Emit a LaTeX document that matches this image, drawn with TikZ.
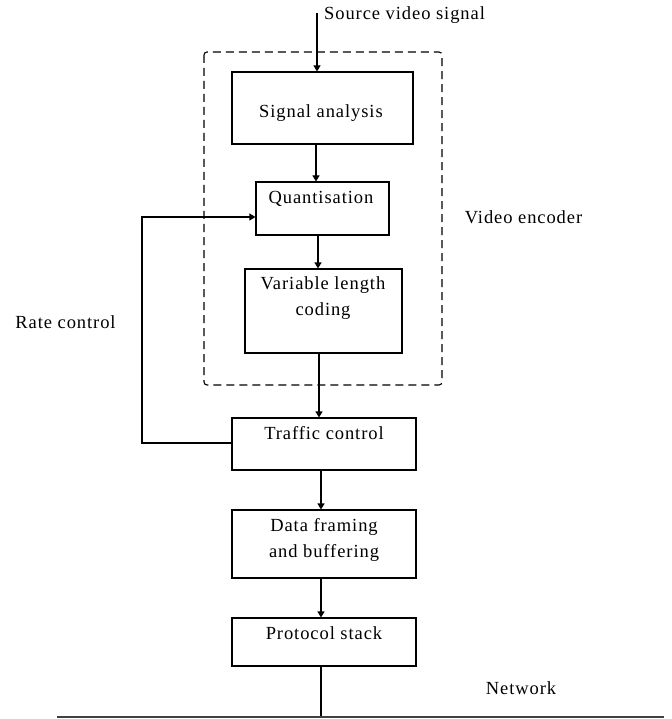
\documentclass[tikz,border=0pt]{standalone}
\usepackage{fontspec}
\setmainfont{Liberation Serif}[LetterSpace=5]
\usetikzlibrary{arrows.meta,calc}
\begin{document}
\begin{tikzpicture}[x=1pt,y=-1pt,
  boxstyle/.style={draw=black, line width=1.1pt, fill=white, inner sep=0pt},
  txt/.style={font=\fontsize{18.5}{26}\selectfont, inner sep=0pt, align=center},
  arr/.style={draw=black, line width=1.1pt, -{Triangle[length=6pt,width=7pt]}},
  conn/.style={draw=black, line width=1.1pt},
  encbox/.style={draw=black, line width=1.1pt, dash pattern=on 8pt off 5pt, rounded corners=3pt}
]
\useasboundingbox (0,0) rectangle (671,719);

% video encoder dashed frame
\draw[encbox] (204,52) rectangle (442,385);

% boxes
\node[boxstyle, minimum width=181pt, minimum height=72pt] (sa) at (322.5,108) {};
\node[boxstyle, minimum width=133pt, minimum height=53pt] (q) at (322.5,208.5) {};
\node[boxstyle, minimum width=157pt, minimum height=84pt] (vlc) at (323.5,311) {};
\node[boxstyle, minimum width=184pt, minimum height=52pt] (tc) at (324,444) {};
\node[boxstyle, minimum width=184pt, minimum height=68pt] (df) at (324,544) {};
\node[boxstyle, minimum width=184pt, minimum height=48pt] (ps) at (324,642) {};

% box texts
\node[txt] (saT) at (321,113) {Signal analysis};
\node[txt] (qT) at (321,199) {Quantisation};
\node[txt] (vlcT) at (323,298.5) {Variable length\\coding};
\node[txt] (tcT) at (324,433) {Traffic control};
\node[txt] (dfT) at (324,540) {Data framing\\and buffering};
\node[txt] (psT) at (324,633) {Protocol stack};

% free labels
\node[txt, anchor=west] (src) at (324,15) {Source video signal};
\node[txt] (venc) at (523.5,217) {Video encoder};
\node[txt] (rate) at (65.5,322) {Rate control};
\node[txt] (net) at (521,688) {Network};

% coordinates
\coordinate (srcTop) at (317,13);
\coordinate (netL) at (57,717);
\coordinate (netR) at (664,717);
\coordinate (fbA) at (142,443);
\coordinate (fbB) at (142,217);
\coordinate (c1) at ($(sa.south)+(-6.5,0)$);
\coordinate (c2) at ($(q.south)+(-4.5,0)$);
\coordinate (c3) at ($(vlc.south)+(-4.5,0)$);
\coordinate (c4) at ($(tc.south)+(-3,0)$);
\coordinate (c5) at ($(df.south)+(-3,0)$);
\coordinate (c6) at ($(ps.south)+(-3,0)$);

% connectors
\draw[arr] (srcTop) -- (srcTop |- sa.north);
\draw[arr] (c1) -- (c1 |- q.north);
\draw[arr] (c2) -- (c2 |- vlc.north);
\draw[arr] (c3) -- (c3 |- tc.north);
\draw[arr] (c4) -- (c4 |- df.north);
\draw[arr] (c5) -- (c5 |- ps.north);
\draw[conn] (c6) -- (c6 |- netL);

% rate control feedback
\draw[arr] (tc.west |- fbA) -- (fbA) -- (fbB) -- (q.west |- fbB);

% network line
\draw[draw=black!75, line width=2pt] (netL) -- (netR);
\end{tikzpicture}
\end{document}
